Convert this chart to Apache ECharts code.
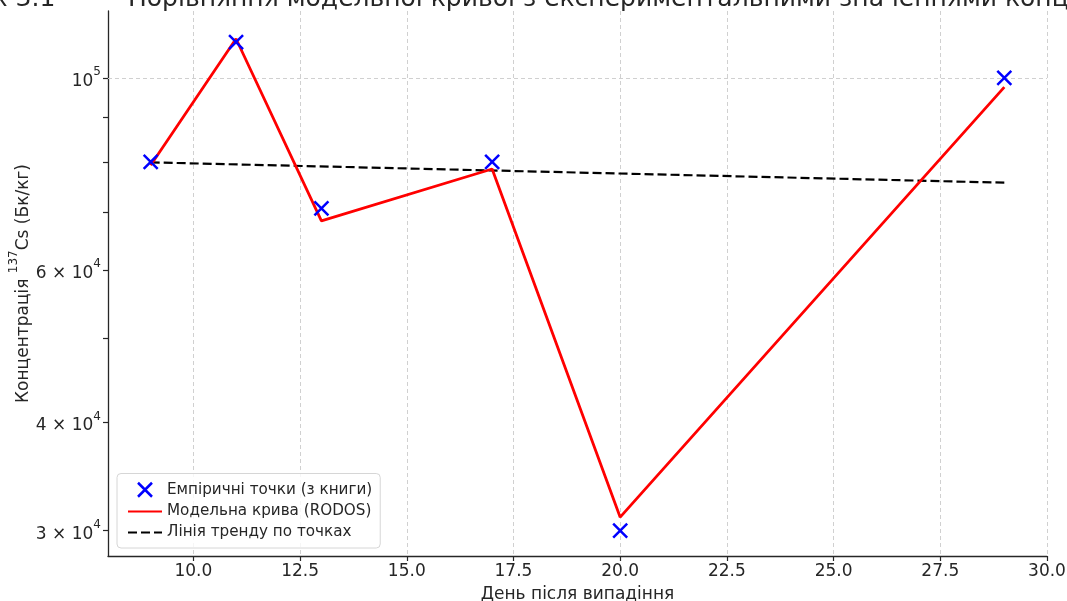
<!DOCTYPE html>
<html>
<head>
<meta charset="utf-8">
<script src="https://cdn.jsdelivr.net/npm/echarts@6/dist/echarts.min.js"></script>
<style>
  html, body { margin: 0; padding: 0; background: #fff; }
  #chart { width: 1067px; height: 601px; }
</style>
</head>
<body>
<div id="chart"></div>
<script>
// Days after deposition
const days = [9, 11, 13, 17, 20, 29];
// Measured concentrations (Bq/kg)
const empirical = [80000, 110000, 70700, 80000, 30000, 100000];
// RODOS model curve (Bq/kg)
const model = [79300, 111000, 68400, 78500, 31100, 97600];
// Trend line through the measured points, end values
const trendDays = [9, 29];
const trendValues = [79900, 75700];

const xTicks = [10, 12.5, 15, 17.5, 20, 22.5, 25, 27.5, 30];
const yLabelTicks = [30000, 40000, 60000, 100000];
const yAllTicks = [30000, 40000, 50000, 60000, 70000, 80000, 90000, 100000];
const yGrid = [100000];

const titleText = 'Рисунок 3.1   —   Порівняння модельної кривої з експериментальними значеннями концентрації ¹³⁷Cs';
const seriesNames = ['Емпіричні точки (з книги)', 'Модельна крива (RODOS)', 'Лінія тренду по точках'];

// "m × 10^e" label with a raised exponent
function sciLabel(v) {
  const e = Math.floor(Math.log10(v) + 1e-9);
  const m = Math.round(v / Math.pow(10, e));
  return (m === 1 ? '{b|10}' : '{b|' + m + ' × 10}') + '{s|' + e + '}';
}

const ink = '#262626';
const font = 'DejaVu Sans';
const crossPath = 'path://M0,0L10,10M10,0L0,10';

const chart = echarts.init(document.getElementById('chart'), null, { renderer: 'canvas' });
chart.setOption({
  animation: false,
  backgroundColor: '#ffffff',
  textStyle: { fontFamily: font, color: ink },
  title: {
    text: titleText,
    left: -104,
    top: -18,
    textStyle: { fontFamily: font, fontSize: 25, fontWeight: 'normal', color: ink }
  },
  grid: { left: 108, right: 20, top: 11, bottom: 45, outerBoundsMode: 'none', containLabel: false },
  xAxis: {
    type: 'value',
    min: 8,
    max: 30,
    name: 'День після випадіння',
    nameLocation: 'middle',
    nameGap: 30,
    nameMoveOverlap: false,
    nameTextStyle: { fontFamily: font, fontSize: 17, color: ink },
    axisLine: { show: true, lineStyle: { color: ink, width: 1.3 } },
    axisTick: { show: true, inside: false, length: 5, lineStyle: { color: ink, width: 1.2 }, customValues: xTicks },
    axisLabel: { fontFamily: font, fontSize: 17, color: ink, margin: 7, customValues: xTicks,
      formatter: v => Number(v).toFixed(1) },
    splitLine: { show: true, lineStyle: { color: '#d0d0d0', type: [4, 3], width: 1 } }
  },
  yAxis: {
    type: 'log',
    logBase: 10,
    min: 28050,
    max: 119500,
    name: '{b|Концентрація }{s|137}{b|Cs (Бк/кг)}',
    nameLocation: 'middle',
    nameGap: 76,
    nameMoveOverlap: false,
    nameTextStyle: {
      fontFamily: font, fontSize: 17, color: ink,
      rich: {
        b: { fontFamily: font, fontSize: 17, color: ink, lineHeight: 24, verticalAlign: 'bottom' },
        s: { fontFamily: font, fontSize: 12, color: ink, lineHeight: 24, verticalAlign: 'top' }
      }
    },
    axisLine: { show: true, lineStyle: { color: ink, width: 1.3 } },
    axisTick: { show: true, inside: false, length: 5, lineStyle: { color: ink, width: 1.2 }, customValues: yAllTicks },
    axisLabel: {
      fontFamily: font, fontSize: 17, color: ink, margin: 7, customValues: yLabelTicks,
      formatter: v => sciLabel(v),
      rich: {
        b: { fontFamily: font, fontSize: 17, color: ink, lineHeight: 24, verticalAlign: 'bottom' },
        s: { fontFamily: font, fontSize: 12, color: ink, lineHeight: 24, verticalAlign: 'top' }
      }
    },
    splitLine: { show: false }
  },
  legend: {
    orient: 'vertical',
    left: 117,
    bottom: 53,
    padding: [8, 8, 8, 10],
    itemGap: 6,
    itemWidth: 34,
    itemHeight: 14,
    backgroundColor: 'rgba(255,255,255,0.8)',
    borderColor: '#d6d6d6',
    borderWidth: 1,
    borderRadius: 4,
    textStyle: { fontFamily: font, fontSize: 15.2, color: ink },
    data: [
      { name: seriesNames[0], icon: crossPath, itemStyle: { color: '#0000ff', borderColor: '#0000ff', borderWidth: 2.5, opacity: 1 } },
      { name: seriesNames[1], itemStyle: { opacity: 0 } },
      { name: seriesNames[2], itemStyle: { opacity: 0 } }
    ]
  },
  series: [
    {
      name: seriesNames[2],
      type: 'line',
      data: trendDays.map((d, i) => [d, trendValues[i]]),
      symbol: 'none',
      z: 3,
      lineStyle: { color: '#000000', width: 2.2, type: [9, 4] },
      itemStyle: { color: '#000000' },
      markLine: {
        silent: true,
        symbol: 'none',
        label: { show: false },
        lineStyle: { color: '#d0d0d0', type: [4, 3], width: 1 },
        data: yGrid.map(v => ({ yAxis: v })),
        z: 1
      }
    },
    {
      name: seriesNames[1],
      type: 'line',
      data: days.map((d, i) => [d, model[i]]),
      symbol: 'none',
      z: 4,
      lineStyle: { color: '#ff0000', width: 2.8 },
      itemStyle: { color: '#ff0000' }
    },
    {
      name: seriesNames[0],
      type: 'scatter',
      data: days.map((d, i) => [d, empirical[i]]),
      symbol: crossPath,
      symbolSize: 14,
      z: 5,
      itemStyle: { color: '#0000ff', borderColor: '#0000ff', borderWidth: 2.5, opacity: 1 }
    }
  ]
});
</script>
</body>
</html>
